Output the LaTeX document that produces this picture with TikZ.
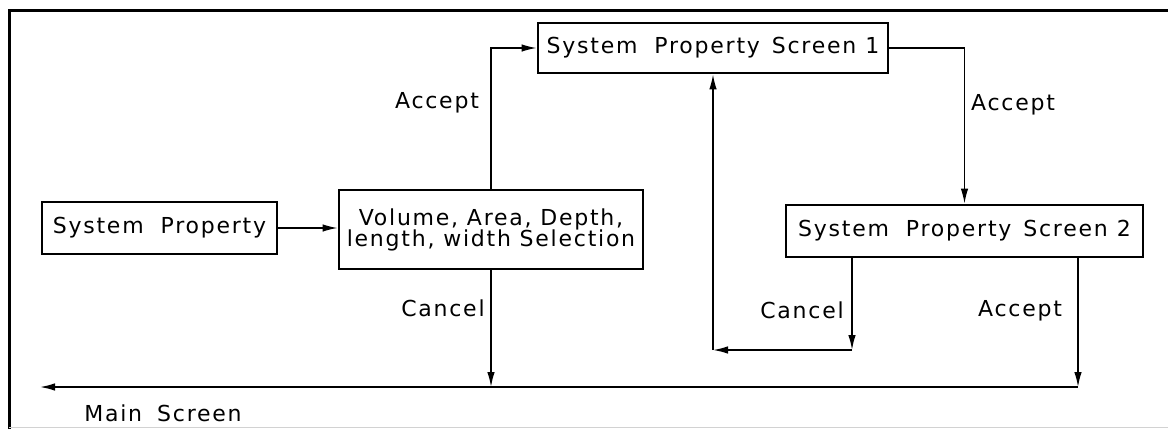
\documentclass[tikz,border=0pt]{standalone}
\usepackage{fontspec}
\setmainfont{DejaVu Sans}[LetterSpace=8]
\usetikzlibrary{arrows.meta}
\begin{document}
\begin{tikzpicture}[x=1pt,y=-1pt,
  txt/.style={font=\fontsize{22}{24}\selectfont, inner sep=0pt},
  box/.style={txt, draw, line width=2.7pt, align=center},
  flow/.style={line width=1.5pt, -{Latex[length=15pt,width=7.5pt]}},
  frameline/.style={line width=3pt}]
\useasboundingbox (0,0) rectangle (1168,429);

% outer frame
\draw[frameline] (9,429) -- (9,10) -- (1168,10);
\draw[gray!35, line width=1pt] (9,427) -- (1168,427);

% screens
\node[box, minimum width=235pt, minimum height=52pt] (sp)  at (159.5,228) {System\hspace{17pt}Property};
\node[box, minimum width=304pt, minimum height=79pt] (vol) at (491,229.5) {Volume, Area, Depth,\\[-3pt]length, width Selection};
\node[box, minimum width=350pt, minimum height=50pt] (s1)  at (713,48)    {System\hspace{17pt}Property\hspace{12pt}Screen\hspace{9pt}1};
\node[box, minimum width=357pt, minimum height=52pt] (s2)  at (964.5,231) {System\hspace{17pt}Property\hspace{12pt}Screen\hspace{9pt}2};

% routing points
\coordinate (c1) at (852,350);
\coordinate (c2) at (713,350);
\coordinate (m1) at (491,387);
\coordinate (m2) at (1078,387);
\coordinate (mend) at (40,387);

% connectors
\draw[flow] (sp.east) -- (sp.east -| vol.west);
\draw[flow] (vol.north) |- (s1.west);
\draw[flow] (s1.east) -| (s2.north);
\draw[flow] (s2.south -| c1) -- (c1);
\draw[flow] (c1) -- (c2);
\draw[flow] (c2) -- (s1.south);
\draw[flow] (vol.south) -- (m1);
\draw[flow] (s2.south -| m2) -- (m2);
\draw[flow] (m2) -- (mend);

% labels
\node[txt] (l1) at (437,103)  {Accept};
\node[txt] (l2) at (1013,105) {Accept};
\node[txt] (l3) at (443,308)  {Cancel};
\node[txt] (l4) at (802,310)  {Cancel};
\node[txt] (l5) at (1020,311) {Accept};
\node[txt] (l6) at (163,413)  {Main\hspace{15pt}Screen};
\end{tikzpicture}
\end{document}
